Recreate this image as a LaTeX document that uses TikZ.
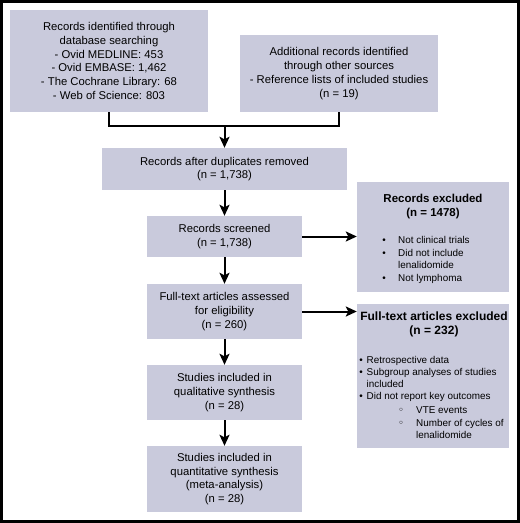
\documentclass[tikz,border=0pt]{standalone}
\usepackage{fontspec}
\setmainfont{Liberation Sans}
\newfontfamily\dejavu{DejaVu Sans}
\usetikzlibrary{arrows.meta}
\definecolor{boxfill}{RGB}{201,202,220}
\begin{document}
\begin{tikzpicture}[x=1pt,y=-1pt,
 box/.style={fill=boxfill, inner sep=0pt, align=center, font=\fontsize{11.3}{13.8}\selectfont},
 panel/.style={fill=boxfill, inner sep=0pt},
 arr/.style={line width=2pt, -{Stealth[length=11pt,width=10pt,inset=2.5pt]}},
 conn/.style={line width=2pt},
 head/.style={inner sep=0pt, align=center, font=\bfseries\fontsize{11.5}{14}\selectfont},
 item/.style={inner sep=0pt, anchor=base west, font=\fontsize{9.9}{12}\selectfont},
 dot/.style={inner sep=0pt, anchor=base, font=\fontsize{9.9}{12}\selectfont},
 subdot/.style={inner sep=0pt, anchor=base, font=\dejavu\fontsize{10}{12}\selectfont},
]
\path[use as bounding box] (0,0) rectangle (520,523);
\draw[line width=3pt] (1.5,1.5) rectangle (518,521.5);

% main column
\node[box, minimum width=198pt, minimum height=102pt] (b1) at (109,61)
 {Records identified through\\database searching\\- Ovid MEDLINE: 453\\- Ovid EMBASE: 1,462\\- The Cochrane Library: 68\\- Web of Science: 803};
\node[box, minimum width=198pt, minimum height=77pt] (b2) at (339,73.5)
 {Additional records identified\\through other sources\\- Reference lists of included studies\\(n = 19)};
\node[box, minimum width=245pt, minimum height=42pt] (b3) at (224.5,169)
 {Records after duplicates removed\\(n = 1,738)};
\node[box, minimum width=155pt, minimum height=41pt] (b4) at (224.5,236.5)
 {Records screened\\(n = 1,738)};
\node[box, minimum width=155pt, minimum height=55pt] (b5) at (224.5,311.5)
 {Full-text articles assessed\\for eligibility\\(n = 260)};
\node[box, minimum width=155pt, minimum height=55pt] (b6) at (224.5,392.5)
 {Studies included in\\qualitative synthesis\\(n = 28)};
\node[box, minimum width=155pt, minimum height=66pt] (b7) at (224.5,479)
 {Studies included in\\quantitative synthesis\\(meta-analysis)\\(n = 28)};

% right panels
\node[panel, minimum width=152pt, minimum height=110pt] (r1) at (433,237) {};
\node[head] (r1h) at (433,207) {Records excluded\\(n = 1478)};
\node[dot] (r1d1) at (384,243.5) {•};
\node[item] (r1t1) at (398,243.5) {Not clinical trials};
\node[dot] (r1d2) at (384,256) {•};
\node[item] (r1t2) at (398,256) {Did not include};
\node[item] (r1t3) at (398,268.5) {lenalidomide};
\node[dot] (r1d4) at (384,281) {•};
\node[item] (r1t4) at (398,281) {Not lymphoma};

\node[panel, minimum width=152pt, minimum height=144pt] (r2) at (433,376) {};
\node[head, font=\bfseries\fontsize{12}{13.5}\selectfont] (r2h) at (434,324.5) {Full-text articles excluded\\(n = 232)};
\node[dot] (r2d1) at (361,363.5) {•};
\node[item] (r2t1) at (366.5,363.5) {Retrospective data};
\node[dot] (r2d2) at (361,375.5) {•};
\node[item] (r2t2) at (366.5,375.5) {Subgroup analyses of studies};
\node[item] (r2t3) at (366.5,387.5) {included};
\node[dot] (r2d4) at (361,399.5) {•};
\node[item] (r2t4) at (366.5,399.5) {Did not report key outcomes};
\node[subdot] (r2s1) at (401,413.5) {◦};
\node[item] (r2t5) at (416,413.5) {VTE events};
\node[subdot] (r2s2) at (401,426.5) {◦};
\node[item] (r2t6) at (416,426.5) {Number of cycles of};
\node[item] (r2t7) at (416,438.5) {lenalidomide};

% connectors
\coordinate (j) at (224.5,126);
\draw[conn] (b1.south) |- (j) -| (b2.south);
\draw[arr] (j) -- (b3.north);
\draw[arr] (b3.south) -- (b4.north);
\draw[arr] (b4.south) -- (b5.north);
\draw[arr] (b5.south) -- (b6.north);
\draw[arr] (b6.south) -- (b7.north);
\draw[arr] (b4.east) -- (b4.east -| r1.west);
\draw[arr] (b5.east) -- (b5.east -| r2.west);
\end{tikzpicture}
\end{document}
